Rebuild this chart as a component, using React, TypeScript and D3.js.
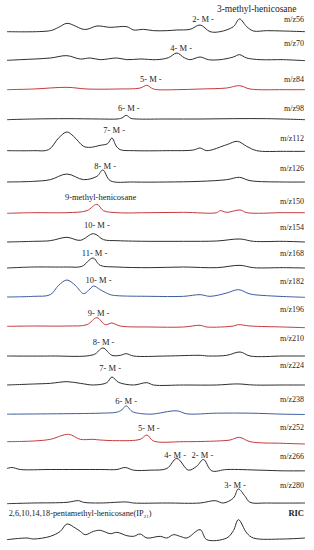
import React from 'react';
import * as d3 from 'd3';

// ion traces, top to bottom
const ions = ['m/z56', 'm/z70', 'm/z84', 'm/z98', 'm/z112', 'm/z126', 'm/z150', 'm/z154', 'm/z168',
  'm/z182', 'm/z196', 'm/z210', 'm/z224', 'm/z238', 'm/z252', 'm/z266', 'm/z280', 'RIC'];

// [scan, relative intensity]
const mz56 = [[20,1],[150,4],[175,14],[200,26],[225,18],[245,9],[260,8],[290,18],[330,14],[380,16],[400,6],[430,8],[460,4],[500,4],[530,6],[570,8],[600,21],[630,1],[660,1],[700,16],[718,39],[740,16],[760,3],[800,4],[850,3],[915,1]];
const mz70 = [[20,2],[60,4],[150,9],[200,16],[240,6],[270,9],[300,4],[350,9],[380,4],[420,6],[470,4],[505,10],[530,24],[552,10],[570,4],[600,12],[625,4],[660,4],[700,12],[718,19],[740,9],[780,4],[850,4],[915,1]];
const mz84 = [[20,1],[100,3],[200,8],[260,3],[350,3],[420,6],[440,14],[460,3],[530,1],[600,3],[680,6],[718,13],[750,3],[850,1],[915,1]];
const mz98 = [[20,1],[100,3],[200,4],[300,3],[350,3],[365,6],[378,14],[392,5],[410,3],[500,3],[600,3],[700,4],[800,4],[915,1]];
const mz112 = [[20,1],[100,1],[145,4],[175,39],[200,57],[220,44],[250,14],[270,11],[300,17],[322,22],[335,39],[348,15],[360,4],[400,1],[500,1],[580,3],[600,9],[620,1],[680,19],[712,29],[740,14],[770,1],[850,-1],[915,-1]];
const mz126 = [[20,0],[100,2],[150,7],[200,24],[250,7],[290,17],[308,36],[330,4],[400,0],[500,0],[600,2],[680,7],[718,14],[750,4],[850,0],[915,0]];
const mz150 = [[20,-1],[100,1],[200,1],[260,7],[290,26],[310,7],[350,1],[450,1],[550,2],[650,1],[660,7],[680,2],[720,9],[740,1],[850,1],[915,1]];
const mz154 = [[20,0],[100,2],[150,4],[200,14],[240,5],[280,25],[310,7],[350,4],[450,2],[550,2],[650,3],[720,9],[760,2],[850,2],[915,0]];
const mz168 = [[20,0],[100,3],[200,3],[245,5],[278,30],[300,8],[350,3],[450,1],[550,3],[650,1],[720,8],[760,1],[850,1],[915,0]];
const mz182 = [[20,0],[100,2],[150,7],[175,35],[200,51],[225,35],[250,10],[265,20],[280,33],[300,22],[330,7],[350,4],[450,2],[550,2],[600,7],[630,2],[680,12],[715,22],[750,9],[800,4],[915,-1]];
const mz196 = [[20,2],[100,3],[200,3],[260,7],[290,28],[315,7],[335,12],[360,3],[450,0],[550,0],[600,5],[620,0],[700,3],[715,7],[750,3],[850,0],[915,-2]];
const mz210 = [[20,0],[150,0],[280,4],[308,24],[335,2],[360,2],[378,7],[400,0],[500,0],[600,2],[625,0],[680,2],[720,12],[750,0],[850,0],[915,0]];
const mz224 = [[20,0],[100,3],[150,5],[200,10],[240,5],[280,0],[320,7],[335,24],[355,8],[400,0],[440,7],[460,0],[550,0],[650,0],[700,3],[720,3],[760,0],[850,0],[915,0]];
const mz238 = [[20,1],[150,2],[300,4],[350,7],[365,14],[378,26],[392,12],[400,7],[450,1],[530,11],[560,2],[650,4],[750,4],[850,1],[915,0]];
const mz252 = [[20,1],[100,3],[150,8],[205,23],[240,8],[278,8],[300,6],[350,4],[420,8],[440,21],[460,3],[550,1],[650,3],[690,6],[718,14],[750,1],[850,-4],[915,-6]];
const mz266 = [[20,6],[35,9],[60,3],[150,3],[300,3],[350,3],[375,9],[400,1],[450,1],[500,6],[530,36],[565,1],[590,13],[610,33],[635,-1],[680,3],[780,1],[850,-1],[915,-1]];
const mz280 = [[20,-2],[100,0],[200,2],[235,7],[250,2],[300,0],[380,3],[400,0],[500,0],[600,0],[645,7],[670,0],[700,15],[715,42],[735,20],[750,2],[800,0],[915,0]];
const ric = [[20,-2],[80,3],[100,0],[150,8],[180,23],[200,45],[225,33],[240,23],[255,13],[280,23],[300,26],[330,16],[350,20],[380,10],[400,8],[420,15],[440,3],[480,8],[500,3],[520,13],[540,8],[560,3],[600,28],[620,-2],[680,3],[700,25],[715,58],[740,18],[760,3],[850,0],[915,3]];

const traces = [mz56, mz70, mz84, mz98, mz112, mz126, mz150, mz154, mz168, mz182, mz196, mz210, mz224, mz238, mz252, mz266, mz280, ric];

// compound labels: text, trace index, scan of peak
const peakLabels = [
  ['3-methyl-henicosane', 0, 770],
  ['2- M -', 0, 609],
  ['4- M -', 1, 543],
  ['5- M -', 2, 452],
  ['6- M -', 3, 386],
  ['7- M -', 4, 342],
  ['8- M -', 5, 315],
  ['9-methyl-henicosane', 6, 301],
  ['10- M -', 7, 290],
  ['11- M -', 8, 283],
  ['10- M -', 9, 295],
  ['9- M -', 10, 295],
  ['8- M -', 11, 310],
  ['7- M -', 12, 330],
  ['6- M -', 13, 378],
  ['5- M -', 14, 446],
  ['4- M -', 15, 525],
  ['2- M -', 15, 607],
  ['3- M -', 16, 705],
];

// layout
const W = 314, H = 550;
const baselines = [32, 61, 90, 120, 151, 182, 213, 242, 268, 297, 327, 356, 385, 414.5, 442, 470.5, 503, 539];
const ionLabelY = [21.5, 46, 82, 111, 141, 171, 204, 230, 256, 284, 312, 341, 368, 402, 430, 459, 488, 516];
const peakLabelY = [11.5, 22, 51, 82, 111, 133, 169, 200, 228, 256, 283, 316, 345, 371, 404, 431, 458, 458, 488];
const colorOf = (i: number) => ([2, 6, 10, 14].includes(i) ? '#c53a3d' : [9, 13].includes(i) ? '#3d5c9e' : '#2e2e2e');

const FONT = '"Liberation Serif", "Times New Roman", serif';

export default function App() {
  const x = d3.scaleLinear().domain([20, 915]).range([7, 305]);
  const h = d3.scaleLinear().domain([0, 60]).range([0, 20]);

  return (
    <svg width={W} height={H} style={{ position: 'absolute', left: 0, top: 0, background: '#fff' }} fontFamily={FONT}>
      {traces.map((pts, i) => {
        const line = d3.line<number[]>()
          .x(d => x(d[0]))
          .y(d => baselines[i] - h(d[1]))
          .curve(d3.curveCatmullRom.alpha(0.5));
        return <path key={ions[i]} d={line(pts) || ''} fill="none" stroke={colorOf(i)} strokeWidth={1} />;
      })}
      {ions.map((name, i) => (
        <text key={'l' + name} x={304} y={ionLabelY[i]} textAnchor="end" fontSize={i === 17 ? 8.5 : 8}
          fontWeight={i === 17 ? 'bold' : 'normal'} fill="#222">{name}</text>
      ))}
      {peakLabels.map(([t, ti, scan], k) => (
        <text key={'p' + k} x={x(scan as number)} y={peakLabelY[k]} textAnchor="middle"
          fontSize={k === 0 ? 9.5 : 8.5} fill="#222">{t}</text>
      ))}
      <text x={x(25)} y={516} fontSize={8.3} fill="#222">
        2,6,10,14,18-pentamethyl-henicosane(IP<tspan fontSize={5} dy={2}>21</tspan><tspan dy={-2}>)</tspan>
      </text>
    </svg>
  );
}
